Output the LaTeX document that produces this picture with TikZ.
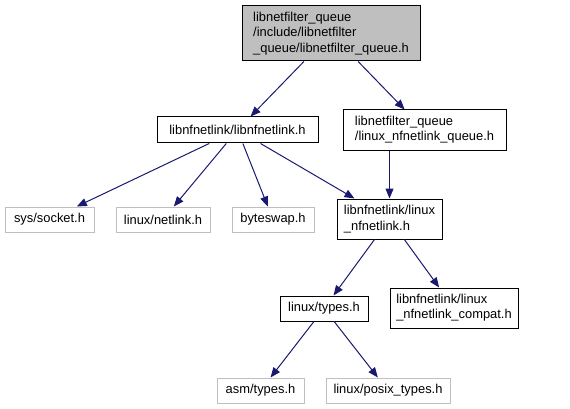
\documentclass[tikz,border=0pt]{standalone}
\usepackage{fontspec}
\setmainfont{Liberation Sans}
\usetikzlibrary{arrows.meta}
\definecolor{edgeblue}{HTML}{191970}
\definecolor{lgray}{HTML}{BFBFBF}
\begin{document}
\begin{tikzpicture}[x=1pt,y=-1pt,
  box/.style={draw=black,line width=1pt,inner sep=0pt,font=\fontsize{12.9}{15.3}\selectfont,align=left},
  gbox/.style={box,draw=lgray},
  topbox/.style={box,fill=lgray},
  edge/.style={draw=edgeblue,line width=1pt,-{Triangle[length=10pt,width=8pt]}}]
\useasboundingbox (0,0) rectangle (570,409);
\node[topbox,minimum width=178pt,minimum height=55pt] (top) at (331,33.5) {libnetfilter\_queue\\/include/libnetfilter\\\_queue/libnetfilter\_queue.h};
\node[box,minimum width=161pt,minimum height=26pt] (lib) at (237.5,130) {libnfnetlink/libnfnetlink.h};
\node[box,minimum width=163pt,minimum height=40pt] (queue) at (424.5,130) {libnetfilter\_queue\\/linux\_nfnetlink\_queue.h};
\node[gbox,minimum width=89pt,minimum height=25pt] (socket) at (49.5,219.5) {sys/socket.h};
\node[gbox,minimum width=94pt,minimum height=25pt] (netlink) at (163,219.5) {linux/netlink.h};
\node[gbox,minimum width=82pt,minimum height=25pt] (byteswap) at (273,219.5) {byteswap.h};
\node[box,minimum width=105pt,minimum height=40pt] (lnf) at (389.5,219) {libnfnetlink/linux\\\_nfnetlink.h};
\node[box,minimum width=88pt,minimum height=25pt] (types) at (324,308.5) {linux/types.h};
\node[box,minimum width=128pt,minimum height=40pt] (compat) at (454,308) {libnfnetlink/linux\\\_nfnetlink\_compat.h};
\node[gbox,minimum width=87pt,minimum height=25pt] (asm) at (260.5,390.5) {asm/types.h};
\node[gbox,minimum width=124pt,minimum height=25pt] (posix) at (388,390.5) {linux/posix\_types.h};
\draw[edge] (top) -- (lib);
\draw[edge] (top) -- (queue);
\draw[edge] (lib) -- (socket);
\draw[edge] (lib) -- (netlink);
\draw[edge] (lib) -- (byteswap);
\draw[edge] (lib) -- (lnf);
\draw[edge] (queue.south -| lnf.north) -- (lnf.north);
\draw[edge] (lnf) -- (types);
\draw[edge] (lnf) -- (compat);
\draw[edge] (types) -- (asm);
\draw[edge] (types) -- (posix);
\end{tikzpicture}
\end{document}
